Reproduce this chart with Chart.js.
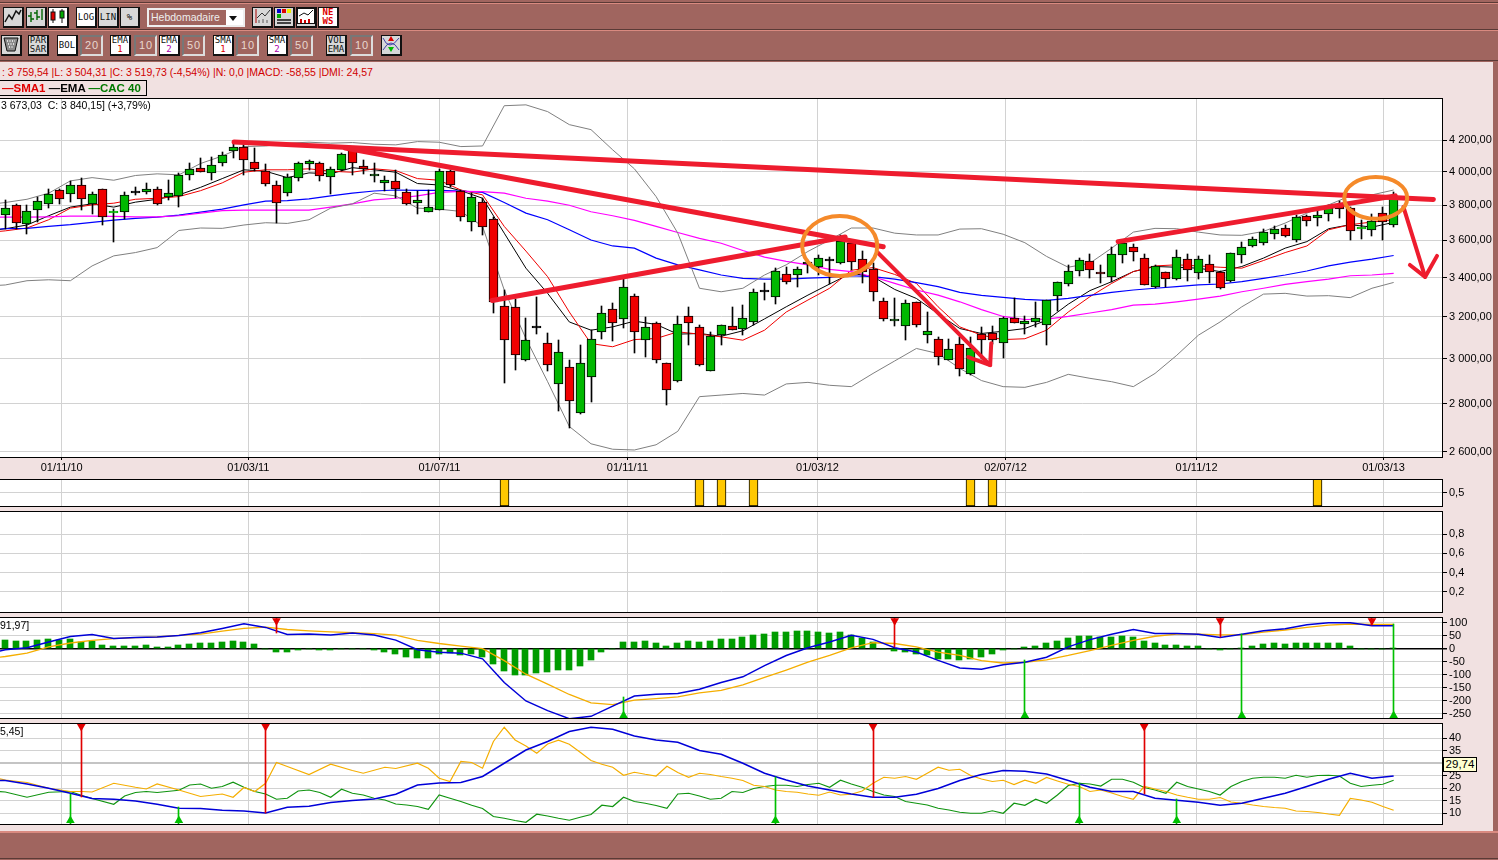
<!DOCTYPE html>
<html>
<head>
<meta charset="utf-8">
<title>CAC 40</title>
<style>
  html, body { margin: 0; padding: 0; background: #a0655f; overflow: hidden; }
  #page { position: relative; width: 1498px; height: 860px; overflow: hidden; background: #a0655f; font-family: "Liberation Sans", sans-serif; }
  #workspace { position: absolute; left: 0; top: 62px; width: 1493px; height: 769px; background: #f1e1e1; }
  .rule { position: absolute; left: 0; width: 1498px; height: 1px; background: #5a3a36; }
  .salmon { position: absolute; left: 0; width: 1498px; height: 2px; background: #d98a80; }
  canvas { position: absolute; left: 0; }
  .btn { position: absolute; box-sizing: border-box; background: #d8d8d8; border: 1px solid #111; border-right-width: 2px; border-bottom-width: 2px; font: 9px/9px "DejaVu Sans Mono", monospace; text-align: center; color: #111; display: flex; align-items: center; justify-content: center; }
  .btn.on { background: #fff; }
  .num { position: absolute; box-sizing: border-box; background: #a0655f; border: 2px solid #777; border-right-color: #ddd; border-bottom-color: #ddd; color: #e8d8d0; font: 11px/17px "Liberation Sans", sans-serif; letter-spacing: 1px; padding-left: 3px; }
  .txt { position: absolute; white-space: nowrap; font-size: 10.5px; line-height: 13px; }
</style>
</head>
<body>
<div id="page">
  <div class="rule" style="top:2px"></div>
  <div class="salmon" style="top:3px;height:1px"></div>
  <div class="rule" style="top:29px"></div>
  <div class="salmon" style="top:30px;height:1px"></div>
  <div class="rule" style="top:60px"></div>
  <div id="workspace"></div>
  <div class="salmon" style="top:831px"></div>
  <div class="rule" style="top:858px"></div>
  <div id="toolbar"></div>

  <canvas id="priceChart"></canvas>
  <canvas id="flagChart"></canvas>
  <canvas id="emptyChart"></canvas>
  <canvas id="macdChart"></canvas>
  <canvas id="dmiChart"></canvas>

  <div class="txt" style="left:2px;top:66px;color:#d00000">: 3 759,54 |L: 3 504,31 |C: 3 519,73 (-4,54%) |N: 0,0 |MACD: -58,55 |DMI: 24,57</div>
  <div class="txt" style="left:-1px;top:80px;width:148px;height:16px;box-sizing:border-box;border:1px solid #000;font-weight:bold;font-size:11.5px;line-height:14px;padding-left:2px">
    <span style="color:#e00000">—SMA1</span> <span style="color:#000">—EMA</span> <span style="color:#007a00">—CAC 40</span>
  </div>
  <div class="txt" style="left:1px;top:99px">3 673,03 &nbsp;C: 3 840,15] (+3,79%)</div>
  <div class="txt" style="left:0;top:619px">91,97]</div>
  <div class="txt" style="left:0;top:725px">5,45]</div>
  <div class="txt" style="left:1443px;top:757px;width:34px;height:15px;box-sizing:border-box;background:#ffffd2;border:1px solid #000;text-align:center;font-size:11.5px">29,74</div>
</div>

<script src="https://cdn.jsdelivr.net/npm/chart.js@4/dist/chart.umd.min.js"></script>
<script>
// Weekly candles, week 0 is the first one on the left
const opens = [3741,3800,3690,3771,3806,3892,3865,3918,3810,3894,3754,3760,3874,3877,3894,3851,3853,3982,4026,3994,4058,4129,4155,4062,4006,3918,3871,3965,4050,4056,3971,4013,4138,4039,3976,3935,3947,3877,3812,3760,3775,4008,3882,3703,3816,3720,3255,3251,2993,3144,3076,2885,2960,2759,2916,3124,3241,3190,3303,3090,3171,2982,2898,3205,3152,2942,3114,3157,3143,3176,3326,3297,3416,3411,3469,3456,3488,3476,3584,3497,3443,3277,3181,3157,3272,3114,3095,2994,3071,2929,3116,3122,3076,3195,3165,3176,3162,3303,3368,3432,3487,3427,3404,3519,3562,3503,3349,3430,3390,3497,3422,3470,3427,3380,3519,3571,3587,3634,3669,3600,3735,3726,3749,3802,3781,3663,3657,3754,3684];
const highs = [3831,3808,3802,3847,3894,3894,3943,3965,3880,3898,3777,3878,3908,3935,3906,3949,3992,4058,4086,4090,4125,4181,4181,4151,4052,3943,3988,4062,4073,4060,4030,4116,4148,4077,4054,3976,4013,3894,3886,3890,4019,4013,3890,3871,3843,3731,3335,3289,3192,3299,3121,3087,2993,3064,3135,3253,3268,3391,3314,3198,3176,2982,3202,3248,3162,3124,3162,3248,3258,3340,3371,3449,3456,3454,3494,3519,3510,3629,3593,3542,3476,3292,3292,3284,3272,3222,3100,3095,3100,3103,3151,3154,3198,3292,3205,3273,3284,3376,3467,3505,3526,3467,3562,3593,3580,3526,3467,3430,3548,3526,3512,3519,3436,3530,3589,3621,3665,3678,3684,3745,3745,3768,3802,3822,3792,3716,3749,3790,3880];
const lows = [3665,3665,3636,3703,3785,3808,3816,3770,3750,3688,3593,3720,3859,3867,3804,3831,3790,3949,4000,3949,4037,4086,3982,4004,3916,3695,3857,3945,4009,3945,3865,4004,3982,3986,3939,3886,3843,3800,3747,3760,3771,3910,3707,3650,3630,3219,2892,2950,2991,3117,2945,2770,2695,2754,2807,3094,3084,3146,3027,3008,2982,2794,2893,3065,2967,2942,3065,3135,3113,3159,3285,3263,3368,3352,3424,3411,3364,3469,3440,3373,3280,3179,3156,3089,3151,3075,2972,2993,2923,2926,3000,3071,3003,3170,3117,3151,3065,3227,3357,3409,3397,3373,3376,3479,3487,3359,3345,3350,3388,3383,3391,3373,3342,3376,3474,3566,3577,3606,3621,3591,3682,3682,3710,3728,3602,3610,3625,3602,3672];
const closes = [3781,3697,3764,3827,3869,3835,3918,3835,3865,3731,3755,3859,3874,3898,3806,3871,3982,4019,4000,4045,4103,4159,4071,4019,3929,3812,3969,4056,4065,3976,4019,4110,4058,4019,3988,3953,3894,3806,3829,3789,4006,3918,3731,3847,3674,3275,3090,3019,3089,3144,2973,3033,2813,2982,3094,3220,3171,3349,3124,3152,2996,2858,3167,3171,2973,3105,3162,3138,3195,3323,3326,3432,3374,3443,3469,3503,3488,3595,3481,3427,3323,3190,3190,3267,3160,3129,3010,3046,2951,3052,3090,3090,3195,3171,3181,3195,3282,3374,3436,3492,3438,3416,3524,3584,3535,3359,3459,3390,3508,3438,3496,3427,3344,3530,3562,3606,3646,3663,3623,3731,3709,3743,3785,3777,3650,3665,3709,3703,3840];

// Indicators read every second week, starting at week -2 (off the left edge)
const smaFast = [3642,3653,3669,3716,3783,3802,3812,3835,3841,3851,3886,3933,3998,4013,4013,4019,4004,3998,4019,4008,3959,3949,3890,3861,3678,3541,3404,3224,3071,3056,3090,3095,3127,3116,3103,3087,3135,3224,3284,3344,3438,3452,3416,3369,3250,3151,3111,3090,3094,3135,3224,3301,3369,3431,3461,3467,3461,3454,3449,3490,3533,3569,3659,3688,3703,3716];
const emaFast = [3648,3665,3686,3739,3789,3808,3789,3818,3835,3861,3906,3959,4013,4004,3965,3994,3988,4026,4013,3998,3929,3920,3886,3841,3640,3449,3318,3175,3135,3151,3179,3163,3116,3119,3106,3132,3190,3250,3309,3366,3422,3404,3338,3292,3215,3143,3119,3130,3143,3183,3263,3332,3378,3431,3458,3454,3449,3431,3458,3503,3557,3593,3665,3688,3674,3701];
const emaSlow = [3659,3665,3667,3678,3688,3701,3714,3724,3731,3743,3760,3777,3802,3824,3827,3837,3855,3871,3884,3890,3888,3888,3884,3876,3816,3754,3716,3659,3602,3569,3557,3503,3467,3440,3413,3395,3391,3391,3397,3400,3409,3404,3391,3373,3352,3323,3308,3297,3287,3282,3292,3308,3323,3335,3344,3352,3361,3366,3378,3395,3413,3434,3461,3481,3497,3517];
const smaSlow = [3731,3731,3731,3733,3737,3737,3735,3733,3733,3739,3754,3768,3771,3771,3771,3771,3789,3808,3831,3841,3855,3876,3882,3880,3871,3841,3824,3800,3762,3739,3712,3678,3644,3611,3584,3544,3508,3485,3467,3443,3431,3404,3369,3335,3309,3275,3236,3202,3187,3189,3202,3219,3236,3258,3263,3275,3289,3304,3326,3344,3364,3378,3391,3409,3413,3422];
const bollUpper = [3800,3816,3835,3871,3945,3965,3949,3978,3988,3982,4052,4099,4159,4163,4181,4187,4181,4185,4174,4170,4191,4187,4159,4163,4429,4435,4389,4302,4269,4138,4019,3851,3640,3344,3326,3344,3413,3467,3539,3602,3669,3669,3640,3630,3630,3663,3665,3634,3587,3512,3454,3476,3557,3646,3667,3665,3646,3630,3628,3650,3697,3754,3802,3855,3861,3890];
const bollLower = [3355,3361,3383,3388,3383,3461,3515,3533,3560,3655,3669,3667,3686,3699,3695,3716,3783,3808,3871,3855,3783,3777,3764,3678,3335,3095,2896,2703,2632,2610,2607,2628,2683,2830,2837,2844,2837,2886,2893,2880,2874,2933,2990,3048,3024,2956,2901,2874,2871,2893,2929,2911,2896,2874,2933,3016,3111,3175,3250,3314,3318,3304,3306,3296,3344,3374];

const macdLine = [-25,-4,4,26,47,55,39,43,45,51,61,78,96,82,55,57,53,60,53,33,-4,-14,-17,-39,-130,-201,-238,-269,-260,-221,-182,-175,-172,-156,-130,-108,-65,-26,4,26,52,36,4,-13,-45,-74,-79,-62,-52,-33,7,35,56,74,59,59,56,43,56,69,77,92,100,100,88,88];
const macdSignal = [-40,-30,-17,7,22,32,39,43,45,51,56,68,78,83,74,69,65,62,58,52,32,20,10,0,-46,-98,-136,-176,-208,-215,-198,-192,-185,-170,-160,-139,-110,-82,-52,-26,3,23,20,7,-13,-26,-46,-55,-52,-43,-26,-7,13,32,48,56,56,53,53,64,72,82,91,95,94,94];
const macdHist = [32,29,29,32,36,32,36,26,29,13,9,9,9,13,5,5,13,17,21,21,25,29,25,17,0,-14,-14,-6,0,-6,-6,0,0,0,-6,-14,-20,-30,-34,-34,-22,-18,-26,-22,-30,-57,-84,-100,-100,-92,-88,-81,-81,-65,-42,-14,0,25,25,29,21,9,21,29,25,29,36,36,44,52,56,64,64,68,68,64,60,64,52,40,25,0,-10,-14,-22,-26,-38,-38,-42,-38,-30,-22,-5,0,5,9,21,29,40,48,48,44,44,48,44,29,21,13,13,9,9,0,-5,0,4,9,17,21,17,21,21,21,21,21,9,0,0,0,4];

const dmiMain = [23.3,23.1,21.7,20,18,15.9,15.6,14.9,13.6,12,11.9,11.2,10.9,10.1,12.4,12.8,14.3,15.1,15.7,17.6,21.3,22.1,22.3,24.7,30,35.3,38.7,42.7,44.4,43.6,40.9,39.3,38.4,35.1,33.6,30,26,23.3,20.9,19.3,17.7,16.4,16.4,17.6,19.9,23.1,25.5,27.1,26.8,25.7,23.1,20.4,18.7,18.7,16,15.2,14.4,13.2,14,16,18,20.7,23.6,26,24,24.9];

// The thin +DI / -DI lines are jagged so they keep their own read weeks
const diPlusWeeks = [-2,0,2,4,6,7,8,10,12,13,14,16,18,20,21,22,23,24,25,26,28,30,32,33,35,36,38,39,40,41,42,43,44,45,46,47,48,49,50,51,52,53,54,55,56,57,58,59,60,61,62,63,64,65,66,67,68,69,70,71,72,73,74,75,76,77,78,79,80,81,82,83,84,85,86,87,88,89,90,91,92,93,94,95,96,97,98,99,100,101,102,103,104,105,106,107,108,109,110,111,112,113,114,115,116,117,118,119,120,121,122,123,124,125,126,127,128];
const diPlus = [25.2,23.3,22.3,20,18.7,18.7,18.5,22,20.4,19.7,21.7,19.3,16.7,17.7,16.4,20.3,18.7,22,30.3,28.7,25.5,29.6,27.1,26,28.4,27.9,30,28,24,22.7,30.7,30.3,28,38.7,44.4,39.3,36.9,34,37.7,39.2,37.6,34.4,31.1,29.6,28.4,25.2,26.4,25.6,24.9,28.8,26.3,24.4,26,25.5,24.7,24,23.1,21.2,20.7,19.3,18.7,18.4,17.7,17.2,18.5,17.3,17.6,18.9,22,24.4,24,24.7,23.6,26,28.4,27.2,27.6,25.1,23.7,22.7,23.2,21.5,23.2,22,24.3,22.9,21.6,20.7,18.7,19.3,18.1,16.7,15.6,20.7,19.7,18.7,17.3,16.4,15.6,15.6,16.3,14.5,14,13.3,12.7,12.3,12,10.9,10.7,10.3,9.7,9.2,15.9,15.3,14.4,12.7,11.2];
const diMinusWeeks = [-2,0,2,4,6,7,8,10,11,12,13,14,16,17,18,19,20,21,22,23,24,25,26,27,28,29,30,31,32,33,34,35,36,37,38,39,40,41,42,43,44,45,46,47,48,49,50,51,52,53,54,55,56,57,58,59,60,61,62,63,64,65,66,67,68,69,70,71,72,73,74,75,76,77,78,79,80,81,82,83,84,85,86,87,88,89,90,91,92,93,94,95,96,97,98,99,100,101,102,103,104,105,106,107,108,109,110,111,112,113,114,115,116,117,118,119,120,121,122,123,124,125,126,127,128];
const diMinus = [19,18.5,16.4,18.4,18.7,17.2,15.9,13.6,16.9,18.3,18.7,18.3,19.2,21.3,21.7,20,20.7,22.4,20.4,18.7,17.7,15.6,16,18.9,19.3,18.3,16.4,19.6,18,17.3,16,15.3,13.7,13.3,12.7,11.6,17.3,16,14.7,13.2,11.9,8.7,8,7.1,6.4,9.6,8.9,8,7.2,8.4,9.5,13.2,12.7,16.4,14.7,14,13.1,12,17.7,18,16.9,15.6,16,18.7,18.3,19.9,20.7,21.2,21.2,20.7,21.5,22,20.4,23.2,21.7,20.4,18.7,17.3,16.7,14.7,14,13.3,12,11.3,10.4,10,10,11,10,14,13.2,15.6,14,17.3,21.1,22,21.7,20.9,23.6,23.6,22.4,20.3,19.3,18,22.4,20.7,19.7,18.7,17.3,20.7,22.7,24,24.4,24.4,24,25.2,24.4,25.1,25.2,24.9,22,20.7,21.2,21.6,23.2];

// Buy / sell signals: week and the indicator value the stem stops at
const flagWeeks = [46,64,66,69,89,91,121];
const macdSellWeeks = [25,82,112,126];
const macdSellValues = [61,6,45,91];
const macdBuyWeeks = [57,94,114,128];
const macdBuyValues = [-186,-45,58,95];
const dmiSellWeeks = [7,24,80,105];
const dmiSellValues = [16.7,10.1,16.4,17.7];
const dmiBuyWeeks = [6,16,71,99,108];
const dmiBuyValues = [17.6,12.4,24.7,22,15.7];

// Hand drawn markup, in week / price
const trendTop = [{x:21.09,y:4189},{x:131.66,y:3834}];
const trendFalling = [{x:31.33,y:4150},{x:80.94,y:3565}];
const trendRising = [{x:44.88,y:3282},{x:77.43,y:3619}];
const trendChannel = [{x:102.6,y:3593},{x:128.15,y:3855}];
const arrowDrop = [{x:80.38,y:3536},{x:90.8,y:2971}];
const arrowDropHead = [{x:90.9,y:3073},{x:90.8,y:2971},{x:88.78,y:3008}];
const arrowLast = [{x:128.9,y:3790},{x:130.9,y:3403}];
const arrowLastHead = [{x:129.5,y:3466},{x:130.9,y:3403},{x:132,y:3515}];
const rings = [
    {week: 76.93, weekRadius: 3.46, priceTop: 3738, priceBottom: 3408},
    {week: 126.35, weekRadius: 2.9, priceTop: 3969, priceBottom: 3721}
];

// Axis ticks
const dateWeeks = [5.2,22.41,40.02,57.36,74.88,92.22,109.83,127.07];
const dateLabels = ['01/11/10','01/03/11','01/07/11','01/11/11','01/03/12','02/07/12','01/11/12','01/03/13'];
const priceTicks = [2600,2800,3000,3200,3400,3600,3800,4000,4200];
const flagTicks = [0.5];
const emptyTicks = [0.2,0.4,0.6,0.8];
const macdTicks = [-250,-200,-150,-100,-50,0,50,100];
const dmiTicks = [10,15,20,25,30,35,40];

const evenWeeks = macdLine.map((v, i) => (i - 1) * 2);
const allWeeks = opens.map((v, i) => i);

Chart.defaults.font.family = '"Liberation Sans", sans-serif';
Chart.defaults.font.size = 11;
Chart.defaults.color = '#000';

const RED = '#f00000';
const GREEN = '#00b800';
const MARKUP = '#ee1c2e';
const GRID = '#d2d2d2';

function comma(v, digits) {
    return v.toFixed(digits).replace('.', ',');
}

function priceLabel(v) {
    return comma(v, 2).replace(/\B(?=(\d{3})+,)/g, ' ');
}

function pairs(weeks, values) {
    return weeks.map((w, i) => ({x: w, y: values[i]}));
}

function lineSet(data, color, width, order) {
    return {type: 'line', data: data, borderColor: color, borderWidth: width, pointRadius: 0, fill: false, order: order};
}

function markupSet(data, width) {
    return {type: 'line', data: data, borderColor: MARKUP, borderWidth: width, pointRadius: 0, fill: false, order: 0,
        borderCapStyle: 'round', borderJoinStyle: 'round'};
}

// a stem from the panel edge to the indicator line, and its triangle on the edge
function signalSets(weeks, values, edge, markerAt, color, flipped) {
    return [
        {data: weeks.map((w, i) => ({x: w, y: [values[i], edge]})), backgroundColor: color, barThickness: 1, order: 1},
        {type: 'line', data: weeks.map(w => ({x: w, y: markerAt})), showLine: false, pointStyle: 'triangle', pointRadius: 5,
            pointRotation: flipped ? 180 : 0, pointBackgroundColor: color, pointBorderColor: color, pointBorderWidth: 0, order: 1}
    ];
}

// white panel behind, black frame on top
const panelFrame = {
    id: 'panelFrame',
    beforeDraw(chart) {
        const a = chart.chartArea;
        chart.ctx.fillStyle = '#fff';
        chart.ctx.fillRect(a.left, a.top, a.width, a.height);
    },
    afterDraw(chart) {
        const a = chart.chartArea;
        chart.ctx.strokeStyle = '#000';
        chart.ctx.lineWidth = 1;
        chart.ctx.strokeRect(a.left - 1.5, a.top + 0.5, a.width + 1, a.height);
    }
};

// keep bars on whole pixels like the original does
const crispBars = {
    id: 'crispBars',
    afterDatasetsUpdate(chart) {
        chart.getSortedVisibleDatasetMetas().forEach(meta => {
            if (meta.type !== 'bar') return;
            meta.data.forEach(bar => {
                bar.x = Math.floor(bar.x) + (bar.width % 2 ? 0.5 : 0);
                bar.y = Math.round(bar.y);
                bar.base = Math.round(bar.base);
            });
        });
    }
};

const orangeRings = {
    id: 'orangeRings',
    afterDatasetsDraw(chart) {
        const ctx = chart.ctx, xs = chart.scales.x, ys = chart.scales.y;
        ctx.save();
        ctx.strokeStyle = '#f58a2a';
        ctx.lineWidth = 4;
        rings.forEach(r => {
            const cx = xs.getPixelForValue(r.week);
            const rx = xs.getPixelForValue(r.week + r.weekRadius) - cx;
            const top = ys.getPixelForValue(r.priceTop);
            const bottom = ys.getPixelForValue(r.priceBottom);
            ctx.beginPath();
            ctx.ellipse(cx, (top + bottom) / 2, rx, (bottom - top) / 2, 0, 0, Math.PI * 2);
            ctx.stroke();
        });
        ctx.restore();
    }
};

function makePanel(id, top, bottom, footer, yScale, datasets, plugins) {
    const canvas = document.getElementById(id);
    const margin = 3;
    canvas.width = 1498;
    canvas.height = bottom - top + margin * 2 + footer;
    canvas.style.top = (top - margin) + 'px';
    return new Chart(canvas, {
        type: 'bar',
        data: {datasets: datasets},
        plugins: [panelFrame, crispBars].concat(plugins || []),
        options: {
            responsive: false,
            animation: false,
            events: [],
            // no extra room for thick lines and markers, the panels have exact positions
            layout: {autoPadding: false, padding: {top: margin, bottom: margin, left: 0, right: 0}},
            plugins: {legend: {display: false}, tooltip: {enabled: false}},
            datasets: {bar: {grouped: false}},
            scales: {
                x: {
                    type: 'linear',
                    min: -0.489,
                    max: 132.55,
                    offset: false,
                    border: {display: false},
                    grid: {offset: false, color: GRID, tickColor: '#000', tickLength: footer ? 3 : 0},
                    ticks: {display: !!footer, autoSkip: false, maxRotation: 0, padding: 1, callback: (v, i) => dateLabels[i]},
                    afterBuildTicks: axis => { axis.ticks = dateWeeks.map(v => ({value: v})); },
                    afterFit: axis => { axis.height = footer; axis.paddingLeft = 0; axis.paddingRight = 0; }
                },
                y: Object.assign({
                    position: 'right',
                    border: {display: false},
                    afterFit: axis => { axis.width = 55; axis.paddingTop = 0; axis.paddingBottom = 0; }
                }, yScale)
            }
        }
    });
}

function yAxis(min, max, tickValues, label, extraGrid) {
    return {
        min: min,
        max: max,
        afterBuildTicks: axis => { axis.ticks = tickValues.map(v => ({value: v})); },
        ticks: {autoSkip: false, padding: 2, callback: label},
        grid: Object.assign({color: GRID, tickColor: '#000', tickLength: 4}, extraGrid || {})
    };
}

// Price panel
makePanel('priceChart', 98, 457, 22,
    Object.assign({type: 'logarithmic'}, yAxis(2579, 4482, priceTicks, priceLabel)),
    [
        lineSet(pairs(evenWeeks, bollUpper), '#808080', 1, 6),
        lineSet(pairs(evenWeeks, bollLower), '#808080', 1, 6),
        lineSet(pairs(evenWeeks, smaSlow), '#ff00ff', 1.2, 6),
        lineSet(pairs(evenWeeks, emaSlow), '#0000ff', 1.2, 6),
        lineSet(pairs(evenWeeks, smaFast), '#f00000', 1, 6),
        lineSet(pairs(evenWeeks, emaFast), '#000000', 1, 6),
        {data: allWeeks.map(i => ({x: i, y: [lows[i], highs[i]]})), backgroundColor: '#000', barThickness: 1, order: 4},
        {
            data: allWeeks.map(i => ({x: i, y: [opens[i], closes[i]]})),
            backgroundColor: allWeeks.map(i => closes[i] > opens[i] ? GREEN : closes[i] < opens[i] ? RED : '#000'),
            borderColor: allWeeks.map(i => Math.abs(closes[i] - opens[i]) < 4 && closes[i] !== opens[i] ? GREEN : '#000'),
            borderWidth: 1,
            borderSkipped: false,
            barThickness: 9,
            minBarLength: 2,
            order: 3
        },
        markupSet(trendTop, 5),
        markupSet(trendFalling, 5),
        markupSet(trendRising, 5),
        markupSet(trendChannel, 5),
        markupSet(arrowDrop, 4),
        markupSet(arrowDropHead, 4),
        markupSet(arrowLast, 4),
        markupSet(arrowLastHead, 4)
    ],
    [orangeRings]);

// Yellow flag strip
makePanel('flagChart', 479, 506, 0,
    yAxis(0, 1, flagTicks, v => comma(v, 1)),
    [{
        data: flagWeeks.map(w => ({x: w, y: [0, 1]})),
        backgroundColor: '#ffc800',
        borderColor: '#000',
        borderWidth: 1,
        borderSkipped: false,
        barThickness: 9
    }]);

// Empty panel, only its axis
makePanel('emptyChart', 511, 612, 0,
    yAxis(-0.007, 1.038, emptyTicks, v => comma(v, 1)),
    []);

// MACD
makePanel('macdChart', 617, 718, 0,
    yAxis(-266.5, 122, macdTicks, v => String(v), {color: c => c.tick.value === 0 ? '#000' : GRID, lineWidth: c => c.tick.value === 0 ? 1.5 : 1}),
    [
        {data: pairs(allWeeks, macdHist), backgroundColor: '#009c00', barThickness: 6, order: 5},
        lineSet(pairs(evenWeeks, macdSignal), '#f5ae00', 1.3, 3),
        lineSet(pairs(evenWeeks, macdLine), '#0000d8', 1.5, 2)
    ].concat(
        signalSets(macdSellWeeks, macdSellValues, 122, 108, '#e00000', true),
        signalSets(macdBuyWeeks, macdBuyValues, -266.5, -257, '#00c000', false)
    ));

// DMI
makePanel('dmiChart', 723, 824, 0,
    yAxis(5.7, 46.1, dmiTicks, v => String(v), {color: c => c.tick.value === 30 ? '#c4c4c4' : GRID, lineWidth: c => c.tick.value === 30 ? 2 : 1}),
    [
        lineSet(pairs(diMinusWeeks, diMinus), '#109410', 1.2, 4),
        lineSet(pairs(diPlusWeeks, diPlus), '#f5ae00', 1.2, 3),
        lineSet(pairs(evenWeeks, dmiMain), '#0000d8', 1.5, 2)
    ].concat(
        signalSets(dmiSellWeeks, dmiSellValues, 46.1, 44.7, '#e00000', true),
        signalSets(dmiBuyWeeks, dmiBuyValues, 5.7, 7.1, '#00c000', false)
    ));

// Toolbar, plain DOM
const icons = {
    line: '<svg width="18" height="16"><polyline points="1,14 5,7 8,11 12,3 15,6 17,2" fill="none" stroke="#111" stroke-width="1.5"/></svg>',
    bars: '<svg width="18" height="16"><path d="M4 4v10M1 8h3M4 11h3M10 2v10M7 5h3M10 9h3M15 1v11" stroke="#060" stroke-width="1.4" fill="none"/></svg>',
    candles: '<svg width="18" height="16"><path d="M4 1v14M13 1v14" stroke="#111"/><rect x="2" y="4" width="4" height="8" fill="#d00" stroke="#111"/><rect x="11" y="3" width="4" height="7" fill="#0a0" stroke="#111"/></svg>',
    chart: '<svg width="18" height="16"><path d="M3 1v14" stroke="#a00"/><polyline points="4,10 9,5 12,8 17,2" fill="none" stroke="#333"/><path d="M6 15v-3M10 15v-4M14 15v-3" stroke="#999" stroke-width="2"/></svg>',
    colors: '<svg width="18" height="16"><rect x="2" y="1" width="4" height="4" fill="#00c"/><rect x="7" y="1" width="4" height="4" fill="#d00"/><rect x="12" y="1" width="4" height="4" fill="#ee0"/><rect x="2" y="6" width="4" height="4" fill="#0a0"/><path d="M2 12h14M2 15h14" stroke="#111" stroke-width="1.5"/></svg>',
    volume: '<svg width="18" height="16"><rect x=".5" y=".5" width="17" height="15" fill="#fff" stroke="#111"/><polyline points="2,8 7,5 11,7 16,2" fill="none" stroke="#111"/><path d="M4 15v-4M8 15v-3M12 15v-4" stroke="#c00" stroke-width="2"/></svg>',
    basket: '<svg width="18" height="18"><path d="M2 3h14l-3 13H5z" fill="#8a8a8a" stroke="#111"/><path d="M5 6h8M6 9h6M7 12h4" stroke="#ddd" stroke-dasharray="1 1.5" stroke-width="2"/></svg>',
    signals: '<svg width="18" height="18"><path d="M1 3q6 14 16 0M1 15q8-14 16 0" fill="none" stroke="#44a"/><path d="M9 1l3 5h-6z" fill="#d00"/><path d="M9 17l3-5h-6z" fill="#0b0"/></svg>'
};

const toolbarButtons = [
    {left: 3, top: 7, width: 21, html: icons.line},
    {left: 26, top: 7, width: 21, html: icons.bars},
    {left: 48, top: 7, width: 21, html: icons.candles, on: true},
    {left: 76, top: 7, width: 21, html: 'LOG', on: true},
    {left: 98, top: 7, width: 21, html: 'LIN'},
    {left: 120, top: 7, width: 20, html: '%'},
    {left: 252, top: 7, width: 21, html: icons.chart},
    {left: 274, top: 7, width: 21, html: icons.colors},
    {left: 296, top: 7, width: 21, html: icons.volume},
    {left: 318, top: 7, width: 21, html: '<span style="color:#d00;font-weight:bold">NE<br>WS</span>', on: true},
    {left: 1, top: 35, width: 21, html: icons.basket},
    {left: 28, top: 35, width: 21, html: 'PAR<br>SAR'},
    {left: 57, top: 35, width: 21, html: 'BOL', on: true},
    {left: 110, top: 35, width: 21, html: 'EMA<br><span style="color:#d00">1</span>', on: true},
    {left: 159, top: 35, width: 21, html: 'EMA<br><span style="color:#a0a">2</span>', on: true},
    {left: 213, top: 35, width: 21, html: 'SMA<br><span style="color:#d00">1</span>', on: true},
    {left: 267, top: 35, width: 21, html: 'SMA<br><span style="color:#a0a">2</span>', on: true},
    {left: 326, top: 35, width: 21, html: 'VOL<br>EMA'},
    {left: 381, top: 35, width: 21, html: icons.signals}
];
const toolbarInputs = [
    {left: 80, value: '20'}, {left: 134, value: '10'}, {left: 182, value: '50'},
    {left: 236, value: '10'}, {left: 290, value: '50'}, {left: 350, value: '10'}
];

const toolbar = document.getElementById('toolbar');
toolbarButtons.forEach(b => {
    const el = document.createElement('div');
    el.className = 'btn' + (b.on ? ' on' : '');
    el.style.cssText = 'left:' + b.left + 'px;top:' + b.top + 'px;width:' + b.width + 'px;height:21px';
    el.innerHTML = '<div>' + b.html + '</div>';
    toolbar.appendChild(el);
});
toolbarInputs.forEach(b => {
    const el = document.createElement('div');
    el.className = 'num';
    el.style.cssText = 'left:' + b.left + 'px;top:35px;width:23px;height:21px';
    el.textContent = b.value;
    toolbar.appendChild(el);
});

const combo = document.createElement('div');
combo.style.cssText = 'position:absolute;left:147px;top:8px;width:98px;height:19px;box-sizing:border-box;border:2px solid #eee;background:#fff';
combo.innerHTML = '<div style="width:77px;height:15px;background:#a0655f;color:#eee;font:10.5px/15px \'Liberation Sans\',sans-serif;padding-left:2px;box-sizing:border-box">Hebdomadaire</div>' +
    '<div style="position:absolute;right:6px;top:6px;border:4.5px solid transparent;border-top:5px solid #111"></div>';
toolbar.appendChild(combo);
</script>
</body>
</html>
